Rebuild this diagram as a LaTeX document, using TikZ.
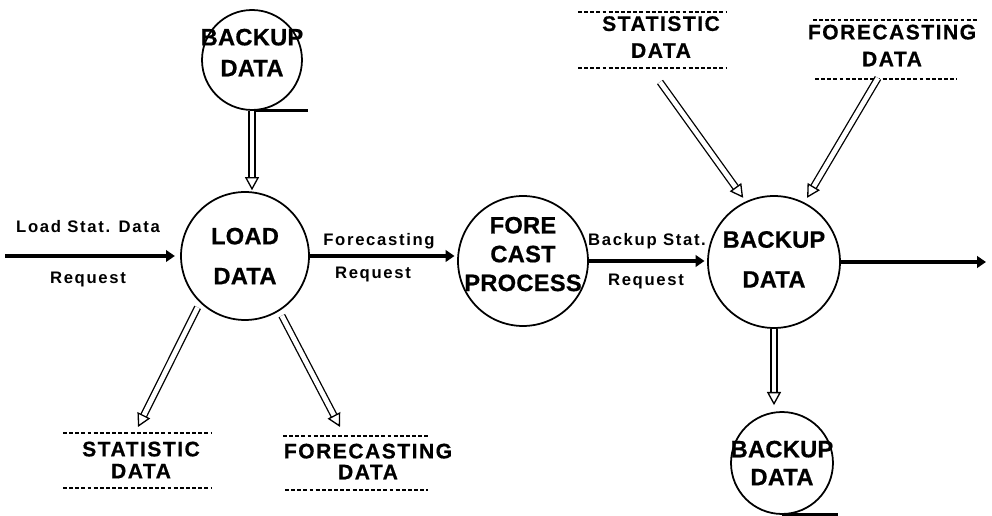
\documentclass[tikz,border=0pt]{standalone}
\usepackage{fontspec}
\setmainfont{Liberation Sans}
\newfontfamily\flowfont{Liberation Sans}[LetterSpace=10]
\newfontfamily\procfont{Liberation Sans}[LetterSpace=1, BoldFeatures={FakeBold=0.6}]
\newfontfamily\storefont{Liberation Sans}[LetterSpace=7, BoldFeatures={FakeBold=0.6}]
\usetikzlibrary{arrows.meta,calc}

\tikzset{
  proc/.style={circle, draw, line width=1pt, inner sep=-20pt, align=center,
    font={\procfont\bfseries\fontsize{13.5}{16}\selectfont}},
  storetext/.style={align=center, inner sep=0pt,
    font={\storefont\bfseries\fontsize{12}{13}\selectfont}},
  storeline/.style={line width=0.9pt, dash pattern=on 2.2pt off 1.3pt},
  flowlabel/.style={inner sep=0pt, font={\flowfont\bfseries\fontsize{9.5}{11}\selectfont}},
  flow/.style={line width=2.2pt, -{Triangle[length=5pt,width=6.5pt]}},
  hstem/.style={line width=0.75pt, double=white, double distance=2.7pt},
  hhead/.style={draw=white, line width=0.75pt,
    -{Triangle[open, fill=white, color=black, length=7.5pt, width=8pt]}},
  bar/.style={line width=1.8pt},
}

% hollow (double-lined) data-flow arrow: start gap, tip gap, from, to
\newcommand\hollowarrow[4]{%
  \draw[hstem, shorten <=#1, shorten >=#2+6.5pt] (#3) -- (#4);
  \draw[hhead, shorten <=#1+1.5pt, shorten >=#2] (#3) -- (#4);}

\begin{document}
\begin{tikzpicture}[x=0.02cm, y=-0.02cm]
\useasboundingbox (0,0) rectangle (992,516);

% processes
\node[proc, minimum size=2cm, text depth=8.5pt] (bk1) at (252,60) {BACKUP\\[1.6pt]DATA};
\node[proc, minimum size=2.56cm] (load) at (245,256) {LOAD\\[6.7pt]DATA};
\node[proc, minimum size=2.6cm, text depth=8pt] (fc) at (523,261) {FORE\\[0.4pt]CAST\\[0.4pt]PROCESS};
\node[proc, minimum size=2.64cm, text depth=3pt] (bk2) at (774,262) {BACKUP\\[6.7pt]DATA};
\node[proc, minimum size=2.04cm] (bk3) at (782,463) {BACKUP\\[-0.1pt]DATA};

% backup markers
\draw[bar] (bk1.south) -- ++(56,0);
\draw[bar] (bk3.south) -- ++(56,0);

% data stores
\node[storetext] (sd2) at (661,37) {STATISTIC\\[2.3pt]DATA};
\node[storetext] (fd2) at (892,45.5) {FORECASTING\\[2.3pt]DATA};
\node[storetext] (sd1) at (141,460) {STATISTIC\\[-0.5pt]DATA};
\node[storetext] (fd1) at (368,461.5) {FORECASTING\\[-1.1pt]DATA};
\draw[storeline] (578,12) -- (727,12) (578,68) -- (727,68);
\draw[storeline] (813,20) -- (977,20) (815,79) -- (957,79);
\draw[storeline] (63,433) -- (212,433) (63,488) -- (211,488);
\draw[storeline] (283,436) -- (430,436) (285,490) -- (428,490);

\coordinate (sd1in) at (138,427);
\coordinate (fd1in) at (340,427);
\coordinate (sd2out) at (660,82);
\coordinate (fd2out) at (878,78);
\coordinate (src) at (5,256);
\coordinate (sink) at (986,262);

% request flows
\draw[flow, shorten >=3pt] (src) -- (load.west);
\draw[flow, shorten >=1.5pt] (load.east) -- (load.east -| fc.west);
\draw[flow, shorten >=1.5pt] (fc.east) -- (fc.east -| bk2.west);
\draw[flow] (bk2.east) -- (bk2.east -| sink);

\node[flowlabel] (l1) at (88,227) {Load Stat. Data};
\node[flowlabel] (l2) at (88,279) {Request};
\node[flowlabel] (l3) at (379,241) {Forecasting};
\node[flowlabel] (l4) at (373,274) {Request};
\node[flowlabel] (l5) at (647,241) {Backup Stat.};
\node[flowlabel] (l6) at (646,281) {Request};

% data flows
\hollowarrow{0pt}{0.5pt}{bk1.south}{bk1.south |- load.north}
\hollowarrow{3pt}{0pt}{load.226}{sd1in}
\hollowarrow{3pt}{0pt}{load.302}{fd1in}
\hollowarrow{0pt}{2.5pt}{sd2out}{bk2.115}
\hollowarrow{0pt}{3pt}{fd2out}{bk2.63}
\hollowarrow{0pt}{3.4pt}{bk2.south}{bk2.south |- bk3.north}
\end{tikzpicture}
\end{document}
